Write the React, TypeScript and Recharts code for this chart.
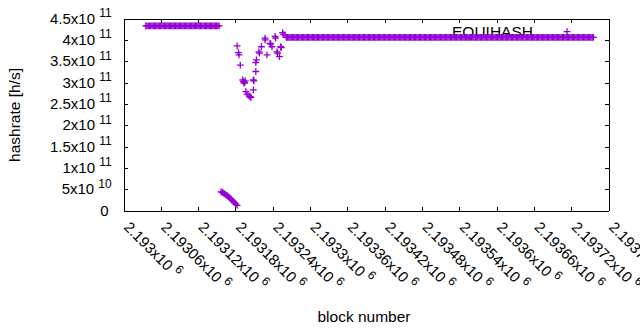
import React from 'react';
import { ScatterChart, Scatter, XAxis, YAxis, Legend } from 'recharts';

const PURPLE = '#9400d3';
const FONT = '"Liberation Sans", Arial, sans-serif';

// plot box size (chart 640x330, margins below)
const PLOT_W = 485;
const PLOT_H = 192;
const TICK = 4;

// block number axis, one tick every 60 blocks
const X_MIN = 2193000;
const X_MAX = 2193780;
const X_TICKS = [
  2193000, 2193060, 2193120, 2193180, 2193240, 2193300, 2193360,
  2193420, 2193480, 2193540, 2193600, 2193660, 2193720, 2193780,
];
const X_TICK_LABELS = [
  '2.193', '2.19306', '2.19312', '2.19318', '2.19324', '2.1933', '2.19336',
  '2.19342', '2.19348', '2.19354', '2.1936', '2.19366', '2.19372', '2.19378',
];

// hashrate axis
const Y_MAX = 4.5e11;
const Y_TICKS = [0, 5e10, 1e11, 1.5e11, 2e11, 2.5e11, 3e11, 3.5e11, 4e11, 4.5e11];
const Y_TICK_LABELS: [string, string][] = [
  ['0', ''], ['5', '10'], ['1', '11'], ['1.5', '11'], ['2', '11'],
  ['2.5', '11'], ['3', '11'], ['3.5', '11'], ['4', '11'], ['4.5', '11'],
];

// hashrate values in 1e9 h/s
// first flat stretch, every 2nd block from 2193035
const BAND_A_START = 2193035;
const BAND_A = [
  434, 434, 434, 434, 434, 434, 434, 434, 434, 434, 434, 434, 434, 434, 434,
  434, 434, 434, 434, 434, 434, 434, 434, 434, 434, 434, 434, 434, 434, 434,
  434, 434, 434, 434, 434, 434, 434, 434, 434, 434, 434, 434, 434, 434, 434,
  434, 434, 434, 434, 434, 434, 434, 434, 434, 434, 434, 434, 434, 434, 434,
];

// the dip right after it
const DROP_BLOCKS = [
  2193156, 2193158, 2193160, 2193162, 2193164, 2193166, 2193168,
  2193170, 2193172, 2193174, 2193176, 2193178, 2193180, 2193182,
];
const DROP_RATES = [45, 44, 42, 40, 38, 36, 33, 31, 28, 25, 22, 19, 16, 13];

// noisy recovery
const RAMP_BLOCKS = [
  2193182, 2193184, 2193185, 2193187, 2193191, 2193192, 2193193, 2193194,
  2193195, 2193196, 2193198, 2193201, 2193203, 2193204, 2193208, 2193209,
  2193208, 2193212, 2193212, 2193213, 2193217, 2193218, 2193221, 2193227,
  2193227, 2193230, 2193235, 2193236, 2193238, 2193243, 2193244, 2193246,
  2193247, 2193250, 2193252, 2193253, 2193255, 2193256, 2193259,
];
const RAMP_RATES = [
  387, 371, 366, 342, 307, 303, 300, 301,
  305, 280, 274, 270, 268, 266, 307, 305,
  284, 327, 348, 354, 373, 370, 385, 405,
  401, 366, 393, 391, 385, 409, 405, 373,
  370, 362, 385, 383, 418, 414, 413,
];

// second flat stretch, every 2nd block from 2193261
const BAND_B_START = 2193261;
const BAND_B = [
  407, 407, 407, 407, 407, 407, 407, 407, 407, 407, 407, 407, 407, 407, 407, 407, 407, 407, 407, 407, 407, 407, 407, 407, 407, 407, 407, 407, 407, 407, 407,
  407, 407, 407, 407, 407, 407, 407, 407, 407, 407, 407, 407, 407, 407, 407, 407, 407, 407, 407, 407, 407, 407, 407, 407, 407, 407, 407, 407, 407, 407, 407,
  407, 407, 407, 407, 407, 407, 407, 407, 407, 407, 407, 407, 407, 407, 407, 407, 407, 407, 407, 407, 407, 407, 407, 407, 407, 407, 407, 407, 407, 407, 407,
  407, 407, 407, 407, 407, 407, 407, 407, 407, 407, 407, 407, 407, 407, 407, 407, 407, 407, 407, 407, 407, 407, 407, 407, 407, 407, 407, 407, 407, 407, 407,
  407, 407, 407, 407, 407, 407, 407, 407, 407, 407, 407, 407, 407, 407, 407, 407, 407, 407, 407, 407, 407, 407, 407, 407, 407, 407, 407, 407, 407, 407, 407,
  407, 407, 407, 407, 407, 407, 407, 407, 407, 407, 407, 407, 407, 407, 407, 407, 407, 407, 407, 407, 407, 407, 407, 407, 407, 407, 407, 407, 407, 407, 407,
  407, 407, 407, 407, 407, 407, 407, 407, 407, 407, 407, 407, 407, 407, 407, 407, 407, 407, 407, 407, 407, 407, 407, 407, 407, 407, 407, 407, 407, 407, 407,
  407, 407, 407, 407, 407, 407, 407, 407, 407, 407, 407, 407, 407, 407, 407, 407, 407, 407, 407, 407, 407, 407, 407, 407, 407, 407, 407, 407, 407, 407, 407,
];

const points = [
  ...BAND_A.map((v, i) => ({ block: BAND_A_START + 2 * i, rate: v * 1e9 })),
  ...DROP_BLOCKS.map((b, i) => ({ block: b, rate: DROP_RATES[i] * 1e9 })),
  ...RAMP_BLOCKS.map((b, i) => ({ block: b, rate: RAMP_RATES[i] * 1e9 })),
  ...BAND_B.map((v, i) => ({ block: BAND_B_START + 2 * i, rate: v * 1e9 })),
];

const LINE = { stroke: '#000', strokeWidth: 1, shapeRendering: 'crispEdges' } as const;

function Plus({ cx, cy }: any) {
  const h = 3.4;
  return (
    <path
      d={`M${cx - h},${cy}H${cx + h}M${cx},${cy - h}V${cy + h}`}
      stroke={PURPLE}
      strokeWidth={1.3}
      fill="none"
    />
  );
}

// bottom tick label; also draws the mirrored tick on the top border,
// and the first/last tick carry the top and right border lines
function XTick({ x, y, payload }: any) {
  const i = X_TICKS.indexOf(payload.value);
  const bottom = y + 2;
  const top = bottom - PLOT_H;
  const ax = x - 1;
  const ay = y + 19;
  return (
    <g>
      <line x1={x} y1={top} x2={x} y2={top + TICK} {...LINE} />
      {i === 0 && <line x1={x} y1={top} x2={x + PLOT_W} y2={top} {...LINE} />}
      {i === X_TICKS.length - 1 && <line x1={x} y1={top} x2={x} y2={bottom} {...LINE} />}
      <text x={ax} y={ay} transform={`rotate(45 ${ax} ${ay})`} textAnchor="start" fontSize={15} fontFamily={FONT} fill="#000">
        {`${X_TICK_LABELS[i]}x10 `}
        <tspan dy={-6.6} fontSize={12}>6</tspan>
      </text>
    </g>
  );
}

// left tick label; also draws the mirrored tick on the right border
function YTick({ x, y, payload }: any) {
  const i = Y_TICKS.indexOf(payload.value);
  const [m, e] = Y_TICK_LABELS[i];
  const right = x - 2 + PLOT_W;
  return (
    <g>
      <line x1={right - TICK} y1={y} x2={right} y2={y} {...LINE} />
      <text x={x - (e ? 14.3 : 17.5)} y={y + 4.5} textAnchor="end" fontSize={15} fontFamily={FONT} fill="#000">
        {e ? `${m}x10 ` : m}
        {e && <tspan dy={-6.6} fontSize={12}>{e}</tspan>}
      </text>
    </g>
  );
}

const XTitle = () => (
  <text x={364} y={322} textAnchor="middle" fontSize={15.5} fontFamily={FONT} fill="#000">
    block number
  </text>
);

const YTitle = () => (
  <text x={20} y={115} transform="rotate(-90 20 115)" textAnchor="middle" fontSize={15.5} fontFamily={FONT} fill="#000">
    hashrate [h/s]
  </text>
);

function Key() {
  return (
    <svg width={220} height={30} style={{ display: 'block' }}>
      <text x={113} y={20.5} textAnchor="end" fontSize={15.5} fontFamily={FONT} fill="#000">
        EQUIHASH
      </text>
      <Plus cx={147} cy={15.7} />
    </svg>
  );
}

export default function App() {
  return (
    <div style={{ position: 'absolute', left: 0, top: 0, fontFamily: FONT }}>
      <ScatterChart width={640} height={330} margin={{ top: 19, right: 31, bottom: 0, left: 0 }}>
        <XAxis
          xAxisId="b"
          type="number"
          dataKey="block"
          domain={[X_MIN, X_MAX]}
          ticks={X_TICKS}
          interval={0}
          allowDataOverflow
          height={119}
          tickSize={-TICK}
          axisLine={LINE}
          tickLine={LINE}
          tick={<XTick />}
          label={<XTitle />}
        />
        <YAxis
          yAxisId="l"
          type="number"
          dataKey="rate"
          domain={[0, Y_MAX]}
          ticks={Y_TICKS}
          interval={0}
          allowDataOverflow
          width={124}
          tickSize={-TICK}
          axisLine={LINE}
          tickLine={LINE}
          tick={<YTick />}
          label={<YTitle />}
        />
        <Legend
          content={<Key />}
          layout="horizontal"
          verticalAlign="middle"
          align="center"
          wrapperStyle={{ left: 420, top: 16, width: 220, zIndex: -1 }}
        />
        <Scatter
          name="EQUIHASH"
          xAxisId="b"
          yAxisId="l"
          data={points}
          shape={(p: any) => <Plus cx={p.cx} cy={p.cy} />}
          isAnimationActive={false}
        />
      </ScatterChart>
    </div>
  );
}
